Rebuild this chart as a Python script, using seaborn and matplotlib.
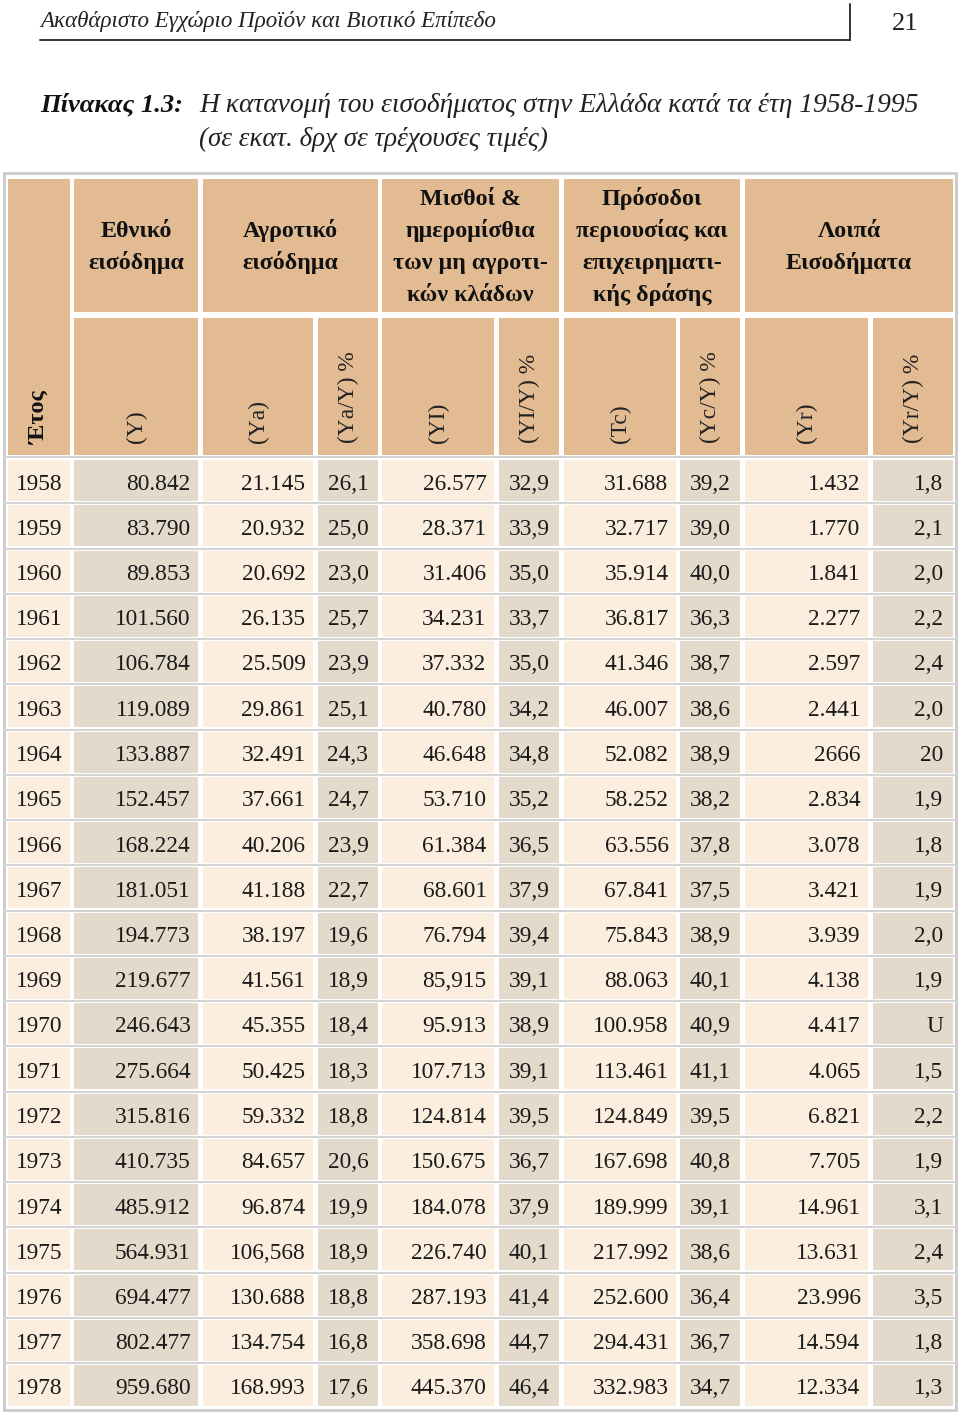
import matplotlib
matplotlib.use("Agg")
import matplotlib.pyplot as plt
from matplotlib.patches import Rectangle
import seaborn as sns

sns.set_theme(style="white")
plt.rcParams['font.family'] = ['Liberation Serif', 'DejaVu Serif']

# ---------------- data ----------------
years = ["1958", "1959", "1960", "1961", "1962", "1963", "1964", "1965", "1966", "1967",
         "1968", "1969", "1970", "1971", "1972", "1973", "1974", "1975", "1976", "1977", "1978"]
Y = ["80.842", "83.790", "89.853", "101.560", "106.784", "119.089", "133.887", "152.457",
     "168.224", "181.051", "194.773", "219.677", "246.643", "275.664", "315.816", "410.735",
     "485.912", "564.931", "694.477", "802.477", "959.680"]
Ya = ["21.145", "20.932", "20.692", "26.135", "25.509", "29.861", "32.491", "37.661",
      "40.206", "41.188", "38.197", "41.561", "45.355", "50.425", "59.332", "84.657",
      "96.874", "106,568", "130.688", "134.754", "168.993"]
Ya_pct = ["26,1", "25,0", "23,0", "25,7", "23,9", "25,1", "24,3", "24,7", "23,9", "22,7",
          "19,6", "18,9", "18,4", "18,3", "18,8", "20,6", "19,9", "18,9", "18,8", "16,8", "17,6"]
Yl = ["26.577", "28.371", "31.406", "34.231", "37.332", "40.780", "46.648", "53.710",
      "61.384", "68.601", "76.794", "85,915", "95.913", "107.713", "124.814", "150.675",
      "184.078", "226.740", "287.193", "358.698", "445.370"]
Yl_pct = ["32,9", "33,9", "35,0", "33,7", "35,0", "34,2", "34,8", "35,2", "36,5", "37,9",
          "39,4", "39,1", "38,9", "39,1", "39,5", "36,7", "37,9", "40,1", "41,4", "44,7", "46,4"]
Yc = ["31.688", "32.717", "35.914", "36.817", "41.346", "46.007", "52.082", "58.252",
      "63.556", "67.841", "75.843", "88.063", "100.958", "113.461", "124.849", "167.698",
      "189.999", "217.992", "252.600", "294.431", "332.983"]
Yc_pct = ["39,2", "39,0", "40,0", "36,3", "38,7", "38,6", "38,9", "38,2", "37,8", "37,5",
          "38,9", "40,1", "40,9", "41,1", "39,5", "40,8", "39,1", "38,6", "36,4", "36,7", "34,7"]
Yr = ["1.432", "1.770", "1.841", "2.277", "2.597", "2.441", "2666", "2.834", "3.078", "3.421",
      "3.939", "4.138", "4.417", "4.065", "6.821", "7.705", "14.961", "13.631", "23.996",
      "14.594", "12.334"]
Yr_pct = ["1,8", "2,1", "2,0", "2,2", "2,4", "2,0", "20", "1,9", "1,8", "1,9", "2,0", "1,9",
          "U", "1,5", "2,2", "1,9", "3,1", "2,4", "3,5", "1,8", "1,3"]

group_labels = ["Εθνικό\nεισόδημα", "Αγροτικό\nεισόδημα",
                "Μισθοί &\nημερομίσθια\nτων μη αγροτι-\nκών κλάδων",
                "Πρόσοδοι\nπεριουσίας και\nεπιχειρηματι-\nκής δράσης",
                "Λοιπά\nΕισοδήματα"]
sub_labels = ["(Υ)", "(Υa)", "(Υa/Υ) %", "(ΥI)", "(ΥI/Υ) %", "(Tc)", "(Υc/Υ) %", "(Υr)", "(Υr/Υ) %"]
year_label = "Έτος"

running_head = "Ακαθάριστο Εγχώριο Προϊόν και Βιοτικό Επίπεδο"
page_no = "21"
title_lead = "Πίνακας 1.3:"
title_l1 = "Η κατανομή του εισοδήματος στην Ελλάδα κατά τα έτη 1958-1995"
title_l2 = "(σε εκατ. δρχ σε τρέχουσες τιμές)"

columns = [years, Y, Ya, Ya_pct, Yl, Yl_pct, Yc, Yc_pct, Yr, Yr_pct]

# ---------------- layout ----------------
W, H = 960, 1413
fig = plt.figure(figsize=(W / 100, H / 100), dpi=100)
ax = fig.add_axes([0, 0, 1, 1])
ax.set_xlim(0, W)
ax.set_ylim(H, 0)
ax.axis("off")

TAN = "#E2BB92"
CREAM = "#FBEEDE"
GREY = "#E3DACB"
BORDER = "#C9C9C9"

col_edges = [(8, 70), (74, 198), (203, 313), (318, 378), (382, 494), (499, 559),
             (564, 676), (680, 740), (745, 868), (873, 953)]
col_fill = [CREAM, GREY, CREAM, GREY, CREAM, GREY, CREAM, GREY, CREAM, GREY]
groups = [(1, 1), (2, 3), (4, 5), (6, 7), (8, 9)]

h1_top, h1_bot = 179, 312
h2_top, h2_bot = 318, 455
row0_top, row_pitch, row_h = 460, 45.25, 41

fig.canvas.draw()
renderer = fig.canvas.get_renderer()


def fit(txt, x0, x1, y, **kw):
    t = ax.text(x0, y, txt, ha="left", va="baseline", **kw)
    bb = t.get_window_extent(renderer=renderer)
    fs = t.get_fontsize() * (x1 - x0) / bb.width
    t.set_fontsize(fs)
    return t

# running head
fit(running_head, 40, 497, 27, style="italic", fontsize=15, color="#222222")
ax.text(918, 30, page_no, ha="right", va="baseline", fontsize=19, color="#222222")
ax.plot([40, 850], [40, 40], color="#333333", lw=1.4)
ax.plot([850, 850], [4, 40], color="#333333", lw=1.4)

# title
fit(title_lead, 40, 183, 112, style="italic", weight="bold", fontsize=17, color="#111111")
fit(title_l1, 199, 920, 112, style="italic", fontsize=17, color="#222222")
fit(title_l2, 199, 548, 146, style="italic", fontsize=17, color="#222222")

# outer frame
ax.add_patch(Rectangle((4, 173), 952, 1237, facecolor="white", edgecolor=BORDER, lw=2, zorder=0))

# header cells
x0, x1 = col_edges[0]
ax.add_patch(Rectangle((x0, h1_top), x1 - x0, h2_bot - h1_top, facecolor=TAN, lw=0))
ax.text((x0 + x1) / 2, 444, year_label, rotation=90, ha="center", va="bottom",
        fontsize=17.5, weight="bold", color="#111111")

for (a, b), lab in zip(groups, group_labels):
    gx0, gx1 = col_edges[a][0], col_edges[b][1]
    ax.add_patch(Rectangle((gx0, h1_top), gx1 - gx0, h1_bot - h1_top, facecolor=TAN, lw=0))
    lines = lab.split("\n")
    n = len(lines)
    for k, ln in enumerate(lines):
        ax.text((gx0 + gx1) / 2, 253 - 16 * (n - 1) + 32 * k, ln, ha="center", va="baseline",
                fontsize=17.3, weight="bold", color="#111111")

for j, lab in enumerate(sub_labels, start=1):
    cx0, cx1 = col_edges[j]
    ax.add_patch(Rectangle((cx0, h2_top), cx1 - cx0, h2_bot - h2_top, facecolor=TAN, lw=0))
    ax.text((cx0 + cx1) / 2, 443, lab, rotation=90, ha="center", va="bottom",
            fontsize=16.8, color="#222222")

# separators
ax.plot([4, 956], [457, 457], color="#D4D4D4", lw=1.5, zorder=0.5)
for i in range(1, len(years)):
    yy = row0_top + i * row_pitch - 2
    ax.plot([4, 956], [yy, yy], color="#D4D4D4", lw=1.5, zorder=0.5)

# data cells
for i in range(len(years)):
    top = row0_top + i * row_pitch
    base = top + 21 + 8.5
    for j, (col, (cx0, cx1)) in enumerate(zip(columns, col_edges)):
        ax.add_patch(Rectangle((cx0, top), cx1 - cx0, row_h, facecolor=col_fill[j], lw=0))
        if j == 0:
            ax.text(cx0 + 8, base, col[i], ha="left", va="baseline", fontsize=16.8, color="#1a1a1a")
        else:
            pad = 7.5 if j % 2 == 0 or j == 1 else 9.5
            ax.text(cx1 - pad, base, col[i], ha="right", va="baseline", fontsize=16.8, color="#1a1a1a")

fig.savefig("out.png", dpi=100, facecolor="white")
